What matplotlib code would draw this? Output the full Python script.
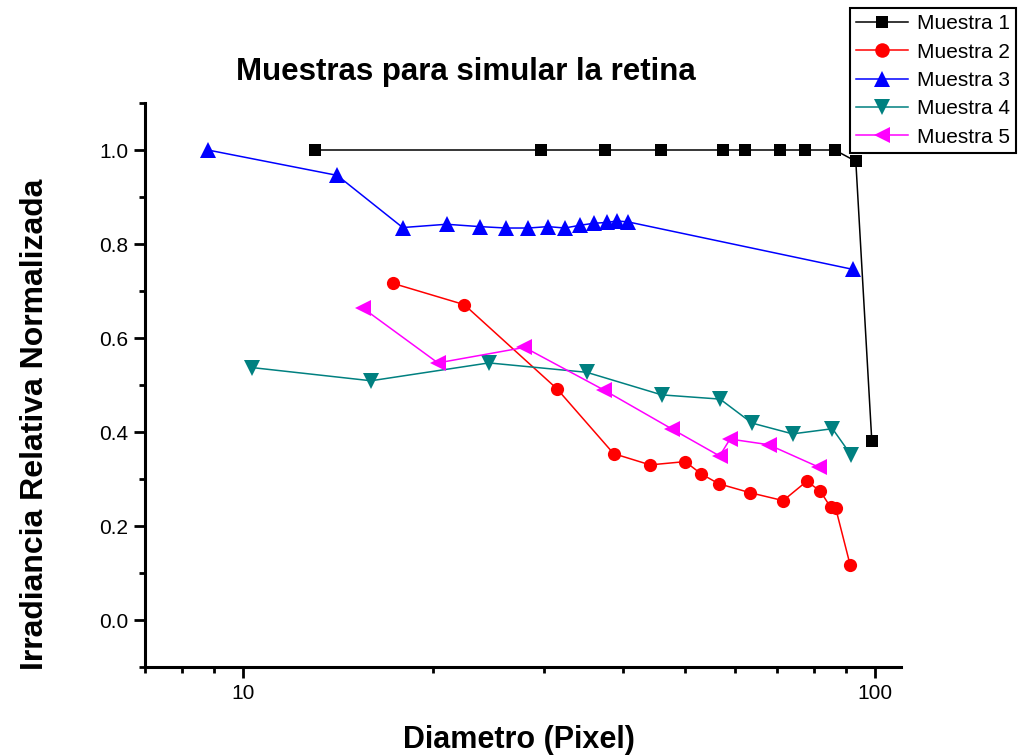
import matplotlib
matplotlib.use("Agg")
import matplotlib.pyplot as plt
from matplotlib.ticker import MultipleLocator, LogLocator, FixedLocator, NullFormatter, FixedFormatter

plt.rcParams['font.family'] = ['Liberation Sans', 'DejaVu Sans']

# ---- data ----
x1 = [13.0, 29.6, 37.4, 45.9, 57.5, 62.4, 70.9, 77.4, 86.4, 93.3, 98.9]
y1 = [1.0, 1.0, 1.0, 1.0, 1.0, 1.0, 1.0, 1.0, 1.0, 0.976, 0.381]

x2 = [17.3, 22.4, 31.4, 38.6, 44.1, 50.1, 53.1, 56.6, 63.4, 71.6, 78.0, 81.9, 85.1, 86.7, 91.4]
y2 = [0.716, 0.671, 0.492, 0.354, 0.330, 0.337, 0.311, 0.290, 0.271, 0.254, 0.295, 0.275, 0.240, 0.238, 0.117]

x3 = [8.8, 14.1, 17.9, 21.0, 23.7, 26.1, 28.3, 30.4, 32.3, 34.2, 35.9, 37.7, 39.1, 40.7, 92.3]
y3 = [1.0, 0.946, 0.835, 0.842, 0.837, 0.834, 0.834, 0.837, 0.834, 0.840, 0.844, 0.846, 0.849, 0.847, 0.746]

x4 = [10.35, 15.95, 24.5, 35.0, 46.0, 56.9, 63.9, 74.1, 85.7, 91.6]
y4 = [0.537, 0.509, 0.547, 0.527, 0.479, 0.470, 0.419, 0.396, 0.407, 0.352]

x5 = [15.47, 20.35, 27.9, 37.3, 47.8, 56.8, 59.0, 67.9, 81.6]
y5 = [0.664, 0.547, 0.580, 0.489, 0.406, 0.349, 0.385, 0.373, 0.325]

labels = ["Muestra 1", "Muestra 2", "Muestra 3", "Muestra 4", "Muestra 5"]
colors = ["#000000", "#FF0000", "#0000FF", "#008080", "#FF00FF"]
markers = ["s", "o", "^", "v", "<"]
msizes = [8.5, 9.5, 11, 11, 11]

title = "Muestras para simular la retina"
xlabel = "Diametro (Pixel)"
ylabel = "Irradiancia Relativa Normalizada"
yticks = [0.0, 0.2, 0.4, 0.6, 0.8, 1.0]
xticks = [10, 100]

# ---- figure ----
fig = plt.figure(figsize=(10.18, 7.55), dpi=100)
ax = fig.add_axes([145/1018, 1-667/755, (901-145)/1018, (667-103)/755])

series = [(x1, y1), (x2, y2), (x3, y3), (x4, y4), (x5, y5)]
for (xs, ys), lab, c, m, ms in zip(series, labels, colors, markers, msizes):
    ax.plot(xs, ys, color=c, marker=m, markersize=ms, linewidth=1.1,
            markeredgewidth=0, label=lab, clip_on=False)

ax.set_xscale('log')
ax.set_xlim(7, 110)
ax.set_ylim(-0.1, 1.1)

ax.xaxis.set_major_locator(FixedLocator(xticks))
ax.xaxis.set_major_formatter(FixedFormatter([str(t) for t in xticks]))
ax.xaxis.set_minor_locator(LogLocator(base=10, subs=range(2, 10), numticks=20))
ax.xaxis.set_minor_formatter(NullFormatter())

ax.yaxis.set_major_locator(FixedLocator(yticks))
ax.set_yticklabels([f"{t:.1f}" for t in yticks])
ax.yaxis.set_minor_locator(MultipleLocator(0.1))

for s in ['top', 'right']:
    ax.spines[s].set_visible(False)
for s in ['left', 'bottom']:
    ax.spines[s].set_linewidth(2.2)

ax.tick_params(which='major', direction='out', length=8, width=2, labelsize=15, pad=4)
ax.tick_params(which='minor', direction='out', length=4.5, width=2)

fig.text(466/1018, 1-72/755, title, ha='center', va='center', fontsize=22.5, fontweight='bold')
fig.text(519/1018, 1-740/755, xlabel, ha='center', va='center', fontsize=22, fontweight='bold')
fig.text(35/1018, 1-424/755, ylabel, ha='center', va='center', rotation=90, fontsize=23, fontweight='bold')

leg = ax.legend(loc='upper left', bbox_to_anchor=(850/1018, 1-8/755), bbox_transform=fig.transFigure,
                borderaxespad=0, fancybox=False, edgecolor='black', framealpha=1,
                fontsize=15, handlelength=2.5, handletextpad=0.4, labelspacing=0.45,
                borderpad=0.3, markerscale=1.1)
leg.get_frame().set_linewidth(1.5)

fig.savefig("out.png", dpi=100)
